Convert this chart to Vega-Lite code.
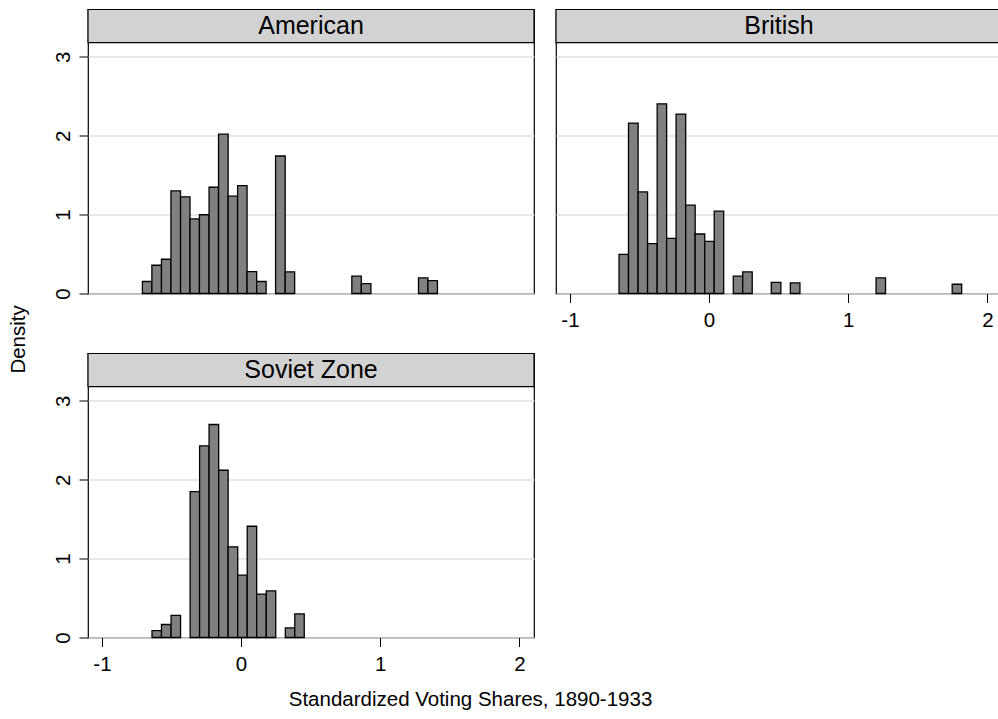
{
  "$schema": "https://vega.github.io/schema/vega-lite/v6.json",
  "background": "white",
  "padding": {"left": 8, "top": 7.5, "right": 0, "bottom": 0},
  "title": {"text": "Density", "orient": "left", "anchor": "middle", "fontSize": 20.5, "font": "Liberation Sans", "fontWeight": "normal", "color": "black", "offset": 23, "dx": 20},
  "datasets": {
    "bins": [
      {"zone": "American", "bin_start": -0.709, "bin_end": -0.641, "density": 0.152},
      {"zone": "American", "bin_start": -0.641, "bin_end": -0.572, "density": 0.358},
      {"zone": "American", "bin_start": -0.572, "bin_end": -0.504, "density": 0.434},
      {"zone": "American", "bin_start": -0.504, "bin_end": -0.435, "density": 1.3},
      {"zone": "American", "bin_start": -0.435, "bin_end": -0.367, "density": 1.225},
      {"zone": "American", "bin_start": -0.367, "bin_end": -0.299, "density": 0.947},
      {"zone": "American", "bin_start": -0.299, "bin_end": -0.23, "density": 0.998},
      {"zone": "American", "bin_start": -0.23, "bin_end": -0.162, "density": 1.347},
      {"zone": "American", "bin_start": -0.162, "bin_end": -0.093, "density": 2.02},
      {"zone": "American", "bin_start": -0.093, "bin_end": -0.025, "density": 1.234},
      {"zone": "American", "bin_start": -0.025, "bin_end": 0.043, "density": 1.368},
      {"zone": "American", "bin_start": 0.043, "bin_end": 0.112, "density": 0.278},
      {"zone": "American", "bin_start": 0.112, "bin_end": 0.18, "density": 0.152},
      {"zone": "American", "bin_start": 0.248, "bin_end": 0.317, "density": 1.743},
      {"zone": "American", "bin_start": 0.317, "bin_end": 0.385, "density": 0.274},
      {"zone": "American", "bin_start": 0.796, "bin_end": 0.864, "density": 0.22},
      {"zone": "American", "bin_start": 0.864, "bin_end": 0.933, "density": 0.126},
      {"zone": "American", "bin_start": 1.275, "bin_end": 1.343, "density": 0.197},
      {"zone": "American", "bin_start": 1.343, "bin_end": 1.411, "density": 0.164},
      {"zone": "British", "bin_start": -0.647, "bin_end": -0.579, "density": 0.497},
      {"zone": "British", "bin_start": -0.579, "bin_end": -0.51, "density": 2.16},
      {"zone": "British", "bin_start": -0.51, "bin_end": -0.442, "density": 1.288},
      {"zone": "British", "bin_start": -0.442, "bin_end": -0.373, "density": 0.632},
      {"zone": "British", "bin_start": -0.373, "bin_end": -0.305, "density": 2.404},
      {"zone": "British", "bin_start": -0.305, "bin_end": -0.237, "density": 0.699},
      {"zone": "British", "bin_start": -0.237, "bin_end": -0.168, "density": 2.274},
      {"zone": "British", "bin_start": -0.168, "bin_end": -0.1, "density": 1.12},
      {"zone": "British", "bin_start": -0.1, "bin_end": -0.031, "density": 0.754},
      {"zone": "British", "bin_start": -0.031, "bin_end": 0.037, "density": 0.661},
      {"zone": "British", "bin_start": 0.037, "bin_end": 0.105, "density": 1.044},
      {"zone": "British", "bin_start": 0.174, "bin_end": 0.242, "density": 0.219},
      {"zone": "British", "bin_start": 0.242, "bin_end": 0.31, "density": 0.274},
      {"zone": "British", "bin_start": 0.447, "bin_end": 0.516, "density": 0.14},
      {"zone": "British", "bin_start": 0.584, "bin_end": 0.653, "density": 0.134},
      {"zone": "British", "bin_start": 1.2, "bin_end": 1.268, "density": 0.197},
      {"zone": "British", "bin_start": 1.747, "bin_end": 1.815, "density": 0.117},
      {"zone": "Soviet Zone", "bin_start": -0.64, "bin_end": -0.572, "density": 0.088},
      {"zone": "Soviet Zone", "bin_start": -0.572, "bin_end": -0.503, "density": 0.165},
      {"zone": "Soviet Zone", "bin_start": -0.503, "bin_end": -0.435, "density": 0.28},
      {"zone": "Soviet Zone", "bin_start": -0.366, "bin_end": -0.298, "density": 1.85},
      {"zone": "Soviet Zone", "bin_start": -0.298, "bin_end": -0.23, "density": 2.43},
      {"zone": "Soviet Zone", "bin_start": -0.23, "bin_end": -0.161, "density": 2.7},
      {"zone": "Soviet Zone", "bin_start": -0.161, "bin_end": -0.093, "density": 2.12},
      {"zone": "Soviet Zone", "bin_start": -0.093, "bin_end": -0.024, "density": 1.15},
      {"zone": "Soviet Zone", "bin_start": -0.024, "bin_end": 0.044, "density": 0.79},
      {"zone": "Soviet Zone", "bin_start": 0.044, "bin_end": 0.112, "density": 1.41},
      {"zone": "Soviet Zone", "bin_start": 0.112, "bin_end": 0.181, "density": 0.55},
      {"zone": "Soviet Zone", "bin_start": 0.181, "bin_end": 0.249, "density": 0.59},
      {"zone": "Soviet Zone", "bin_start": 0.318, "bin_end": 0.386, "density": 0.123},
      {"zone": "Soviet Zone", "bin_start": 0.386, "bin_end": 0.454, "density": 0.3}
    ],
    "zones": [
      {"zone": "American"},
      {"zone": "British"},
      {"zone": "Soviet Zone"}
    ]
  },
  "spacing": 19,
  "vconcat": [
    {
      "spacing": 18,
      "hconcat": [
        {
          "width": 446,
          "height": 284,
          "layer": [
            {
              "data": {"name": "bins"},
              "transform": [{"filter": "datum.zone === 'American'"}],
              "mark": {"type": "rect", "fill": "#808080", "stroke": "black", "strokeWidth": 1.3},
              "encoding": {
                "x": {"field": "bin_start", "type": "quantitative", "scale": {"domain": [-1.1, 2.105], "nice": false, "zero": false}, "axis": null},
                "x2": {"field": "bin_end"},
                "y": {"field": "density", "type": "quantitative", "scale": {"domain": [0, 3.6], "nice": false},
                  "axis": {"values": [0, 1, 2, 3], "grid": true, "gridColor": "#e0e0e0", "gridWidth": 1.5, "domain": false,
                    "ticks": true, "tickSize": 9, "tickColor": "black", "labelAngle": -90, "labelAlign": "center", "labelBaseline": "bottom",
                    "labelPadding": 6, "labelFontSize": 20.5, "labelFont": "Liberation Sans", "labelColor": "black",
                    "labelExpr": "'' + datum.value", "title": null}},
                "y2": {"datum": 0}
              }
            },
            {
              "data": {"name": "zones"},
              "transform": [{"filter": "datum.zone === 'American'"}],
              "mark": {"type": "rect", "fill": "#d2d2d2", "stroke": "black", "strokeWidth": 1.2},
              "encoding": {"x": {"datum": -1.1}, "x2": {"datum": 2.105}, "y": {"datum": 3.18}, "y2": {"datum": 3.6}}
            },
            {
              "data": {"name": "zones"},
              "transform": [{"filter": "datum.zone === 'American'"}],
              "mark": {"type": "text", "font": "Liberation Sans", "fontSize": 25, "color": "black", "baseline": "middle", "align": "center"},
              "encoding": {"x": {"datum": 0.5025}, "y": {"datum": 3.39}, "text": {"field": "zone"}}
            }
          ]
        },
        {
          "width": 446,
          "height": 284,
          "layer": [
            {
              "data": {"name": "bins"},
              "transform": [{"filter": "datum.zone === 'British'"}],
              "mark": {"type": "rect", "fill": "#808080", "stroke": "black", "strokeWidth": 1.3},
              "encoding": {
                "x": {"field": "bin_start", "type": "quantitative", "scale": {"domain": [-1.1, 2.105], "nice": false, "zero": false},
                  "axis": {"values": [-1, 0, 1, 2], "grid": false, "domain": false, "tickSize": 9, "tickColor": "black",
                    "labelPadding": 8, "labelFontSize": 20.5, "labelFont": "Liberation Sans", "labelColor": "black", "labelFlush": false,
                    "labelExpr": "'' + datum.value", "title": null}},
                "x2": {"field": "bin_end"},
                "y": {"field": "density", "type": "quantitative", "scale": {"domain": [0, 3.6], "nice": false},
                  "axis": {"values": [0, 1, 2, 3], "grid": true, "gridColor": "#e0e0e0", "gridWidth": 1.5, "domain": false,
                    "ticks": false, "labels": false, "title": null}},
                "y2": {"datum": 0}
              }
            },
            {
              "data": {"name": "zones"},
              "transform": [{"filter": "datum.zone === 'British'"}],
              "mark": {"type": "rect", "fill": "#d2d2d2", "stroke": "black", "strokeWidth": 1.2},
              "encoding": {"x": {"datum": -1.1}, "x2": {"datum": 2.105}, "y": {"datum": 3.18}, "y2": {"datum": 3.6}}
            },
            {
              "data": {"name": "zones"},
              "transform": [{"filter": "datum.zone === 'British'"}],
              "mark": {"type": "text", "font": "Liberation Sans", "fontSize": 25, "color": "black", "baseline": "middle", "align": "center"},
              "encoding": {"x": {"datum": 0.5025}, "y": {"datum": 3.39}, "text": {"field": "zone"}}
            }
          ]
        }
      ]
    },
    {
      "width": 446,
      "height": 284,
      "layer": [
        {
          "data": {"name": "bins"},
          "transform": [{"filter": "datum.zone === 'Soviet Zone'"}],
          "mark": {"type": "rect", "fill": "#808080", "stroke": "black", "strokeWidth": 1.3},
          "encoding": {
            "x": {"field": "bin_start", "type": "quantitative", "scale": {"domain": [-1.1, 2.105], "nice": false, "zero": false},
              "axis": {"values": [-1, 0, 1, 2], "grid": false, "domain": false, "tickSize": 9, "tickColor": "black",
                "labelPadding": 8, "labelFontSize": 20.5, "labelFont": "Liberation Sans", "labelColor": "black", "labelFlush": false,
                "labelExpr": "'' + datum.value",
                "title": "Standardized Voting Shares, 1890-1933", "titleX": 382, "titleY": 68, "titleAlign": "center", "titleBaseline": "alphabetic",
                "titleFontSize": 20.5, "titleFontWeight": "normal", "titleFont": "Liberation Sans", "titleColor": "black"}},
            "x2": {"field": "bin_end"},
            "y": {"field": "density", "type": "quantitative", "scale": {"domain": [0, 3.6], "nice": false},
              "axis": {"values": [0, 1, 2, 3], "grid": true, "gridColor": "#e0e0e0", "gridWidth": 1.5, "domain": false,
                "ticks": true, "tickSize": 9, "tickColor": "black", "labelAngle": -90, "labelAlign": "center", "labelBaseline": "bottom",
                "labelPadding": 6, "labelFontSize": 20.5, "labelFont": "Liberation Sans", "labelColor": "black",
                "labelExpr": "'' + datum.value", "title": null}},
            "y2": {"datum": 0}
          }
        },
        {
          "data": {"name": "zones"},
          "transform": [{"filter": "datum.zone === 'Soviet Zone'"}],
          "mark": {"type": "rect", "fill": "#d2d2d2", "stroke": "black", "strokeWidth": 1.2},
          "encoding": {"x": {"datum": -1.1}, "x2": {"datum": 2.105}, "y": {"datum": 3.18}, "y2": {"datum": 3.6}}
        },
        {
          "data": {"name": "zones"},
          "transform": [{"filter": "datum.zone === 'Soviet Zone'"}],
          "mark": {"type": "text", "font": "Liberation Sans", "fontSize": 25, "color": "black", "baseline": "middle", "align": "center"},
          "encoding": {"x": {"datum": 0.5025}, "y": {"datum": 3.39}, "text": {"field": "zone"}}
        }
      ]
    }
  ],
  "config": {
    "view": {"stroke": "black", "strokeWidth": 1.2},
    "axis": {"tickWidth": 1}
  }
}
